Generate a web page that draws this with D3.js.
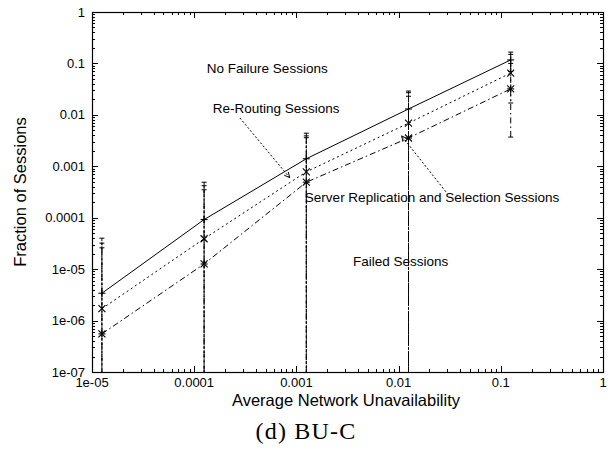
<!DOCTYPE html>
<html><head><meta charset="utf-8">
<script src="https://cdn.jsdelivr.net/npm/d3@7"></script>
<style>body{margin:0;background:#fff}</style>
</head><body>
<svg id="c" width="612" height="453"></svg>
<script>
// ---- data ----
const unavailability = [1.25e-5, 1.25e-4, 1.25e-3, 1.25e-2, 1.25e-1];
const noFailure      = [3.4e-6, 9.2e-5, 1.4e-3, 1.3e-2, 0.117];
const reRouting      = [1.7e-6, 3.9e-5, 7.8e-4, 6.9e-3, 0.065];
const serverRepl     = [5.5e-7, 1.26e-5, 4.9e-4, 3.55e-3, 0.032];
const noFailureHi    = [4.0e-5, 4.9e-4, 4.4e-3, 0.029, 0.166];
const reRoutingHi    = [3.2e-5, 4.2e-4, 3.9e-3, 0.027, 0.150];
const serverReplHi   = [2.6e-5, 3.5e-4, 3.6e-3, 0.023, 0.100];
const noFailureLo    = [0, 0, 0, 0, 0.07];
const reRoutingLo    = [0, 0, 0, 0, 0.017];
const serverReplLo   = [0, 0, 0, 0, 0.0037];
const xTicks = [1e-5, 1e-4, 1e-3, 1e-2, 1e-1, 1];
const xTickLabels = ["1e-05", "0.0001", "0.001", "0.01", "0.1", "1"];
const yTicks = [1e-7, 1e-6, 1e-5, 1e-4, 1e-3, 1e-2, 1e-1, 1];
const yTickLabels = ["1e-07", "1e-06", "1e-05", "0.0001", "0.001", "0.01", "0.1", "1"];

const svg = d3.select("#c");
const L = 92, R = 603, T = 12, B = 372;
const x = d3.scaleLog().domain([1e-5, 1]).range([L, R]);
const y = d3.scaleLog().domain([1e-7, 1]).range([B, T]);
const sans = "'Liberation Sans', Arial, Helvetica, sans-serif";

svg.append("defs").append("clipPath").attr("id", "clip")
  .append("rect").attr("x", L).attr("y", T).attr("width", R - L).attr("height", B - T);

// minor ticks
const minorX = [], minorY = [];
for (let e = -5; e < 0; e++) for (let m = 2; m <= 9; m++) minorX.push(m * Math.pow(10, e));
for (let e = -7; e < 0; e++) for (let m = 2; m <= 9; m++) minorY.push(m * Math.pow(10, e));

const tg = svg.append("g").attr("stroke", "#000").attr("stroke-width", 1);
minorX.forEach(v => {
  const px = Math.round(x(v)) + 0.5;
  tg.append("line").attr("x1", px).attr("x2", px).attr("y1", B).attr("y2", B - 3);
  tg.append("line").attr("x1", px).attr("x2", px).attr("y1", T).attr("y2", T + 3);
});
xTicks.forEach(v => {
  const px = Math.round(x(v)) + 0.5;
  tg.append("line").attr("x1", px).attr("x2", px).attr("y1", B).attr("y2", B - 6);
  tg.append("line").attr("x1", px).attr("x2", px).attr("y1", T).attr("y2", T + 6);
});
minorY.forEach(v => {
  const py = Math.round(y(v)) + 0.5;
  tg.append("line").attr("x1", L).attr("x2", L + 3).attr("y1", py).attr("y2", py);
  tg.append("line").attr("x1", R).attr("x2", R - 3).attr("y1", py).attr("y2", py);
});
yTicks.forEach(v => {
  const py = Math.round(y(v)) + 0.5;
  tg.append("line").attr("x1", L).attr("x2", L + 6).attr("y1", py).attr("y2", py);
  tg.append("line").attr("x1", R).attr("x2", R - 6).attr("y1", py).attr("y2", py);
});

// tick labels
xTicks.forEach((v, i) => {
  svg.append("text").attr("x", x(v)).attr("y", B + 15).attr("text-anchor", "middle")
    .attr("font-family", sans).attr("font-size", 13).text(xTickLabels[i]);
});
yTicks.forEach((v, i) => {
  svg.append("text").attr("x", L - 7).attr("y", y(v) + 4.5).attr("text-anchor", "end")
    .attr("font-family", sans).attr("font-size", 13).text(yTickLabels[i]);
});

// frame
svg.append("rect").attr("x", L + 0.5).attr("y", T + 0.5).attr("width", R - L).attr("height", B - T)
  .attr("fill", "none").attr("stroke", "#000").attr("stroke-width", 1.2);

// series
const series = [
  {v: noFailure, hi: noFailureHi, lo: noFailureLo, dash: null, mark: "plus"},
  {v: reRouting, hi: reRoutingHi, lo: reRoutingLo, dash: "2,3", mark: "cross"},
  {v: serverRepl, hi: serverReplHi, lo: serverReplLo, dash: "6,3,1.5,3", mark: "star"}
];
const pg = svg.append("g").attr("clip-path", "url(#clip)");
const line = d3.line().x((d, i) => x(unavailability[i])).y(d => y(d));
const ymin = y.domain()[0];
series.forEach(s => {
  // error bars
  unavailability.forEach((u, i) => {
    const px = x(u);
    const yHi = y(s.hi[i]);
    const yLo = y(Math.max(s.lo[i] || ymin, ymin));
    pg.append("line").attr("x1", px).attr("x2", px).attr("y1", yHi).attr("y2", yLo)
      .attr("stroke", "#000").attr("stroke-width", 1).attr("stroke-dasharray", s.dash || "3,1");
    pg.append("line").attr("x1", px - 2.5).attr("x2", px + 2.5).attr("y1", yHi).attr("y2", yHi)
      .attr("stroke", "#000").attr("stroke-width", 1);
    if (s.lo[i]) pg.append("line").attr("x1", px - 2.5).attr("x2", px + 2.5).attr("y1", yLo).attr("y2", yLo)
      .attr("stroke", "#000").attr("stroke-width", 1);
  });
  pg.append("path").datum(s.v).attr("d", line).attr("fill", "none").attr("stroke", "#000")
    .attr("stroke-width", 1).attr("stroke-dasharray", s.dash);
  s.v.forEach((d, i) => {
    const px = x(unavailability[i]), py = y(d), r = 3.5;
    const g = pg.append("g").attr("stroke", "#000").attr("stroke-width", 1.1);
    if (s.mark === "plus" || s.mark === "star") {
      g.append("line").attr("x1", px - r).attr("x2", px + r).attr("y1", py).attr("y2", py);
      g.append("line").attr("x1", px).attr("x2", px).attr("y1", py - r).attr("y2", py + r);
    }
    if (s.mark === "cross" || s.mark === "star") {
      g.append("line").attr("x1", px - r).attr("x2", px + r).attr("y1", py - r).attr("y2", py + r);
      g.append("line").attr("x1", px - r).attr("x2", px + r).attr("y1", py + r).attr("y2", py - r);
    }
  });
});

// annotations (placed in data coordinates)
const ann = [
  {t: "No Failure Sessions", xv: 1.33e-4, yv: 0.066},
  {t: "Re-Routing Sessions", xv: 1.52e-4, yv: 0.0109},
  {t: "Server Replication and Selection Sessions", xv: 1.21e-3, yv: 2.02e-4},
  {t: "Failed Sessions", xv: 3.58e-3, yv: 1.15e-5}
];
ann.forEach(a => {
  svg.append("text").attr("x", x(a.xv)).attr("y", y(a.yv)).attr("font-family", sans)
    .attr("font-size", 13.5).text(a.t);
});
const arrows = [
  {x1: 2.8e-4, y1: 0.0087, x2: 8.6e-4, y2: 6.0e-4},
  {x1: 2.9e-2, y1: 3.2e-4, x2: 1.07e-2, y2: 3.9e-3}
];
arrows.forEach(a => {
  const X1 = x(a.x1), Y1 = y(a.y1), X2 = x(a.x2), Y2 = y(a.y2);
  svg.append("line").attr("x1", X1).attr("y1", Y1).attr("x2", X2).attr("y2", Y2)
    .attr("stroke", "#000").attr("stroke-width", 1).attr("stroke-dasharray", "2,2");
  const ang = Math.atan2(Y2 - Y1, X2 - X1), h = 6;
  [0.45, -0.45].forEach(d => {
    svg.append("line").attr("x1", X2).attr("y1", Y2)
      .attr("x2", X2 - h * Math.cos(ang + d)).attr("y2", Y2 - h * Math.sin(ang + d))
      .attr("stroke", "#000").attr("stroke-width", 1);
  });
});

// axis titles
svg.append("text").attr("x", 346).attr("y", 406).attr("text-anchor", "middle")
  .attr("font-family", sans).attr("font-size", 16.5).text("Average Network Unavailability");
svg.append("text").attr("transform", `translate(26,${(T + B) / 2}) rotate(-90)`).attr("text-anchor", "middle")
  .attr("font-family", sans).attr("font-size", 16.5).text("Fraction of Sessions");
svg.append("text").attr("x", 306).attr("y", 439).attr("text-anchor", "middle")
  .attr("font-family", "'Liberation Serif', 'DejaVu Serif', serif").attr("font-size", 24)
  .attr("letter-spacing", 1.2).text("(d) BU-C");
</script>
</body></html>
